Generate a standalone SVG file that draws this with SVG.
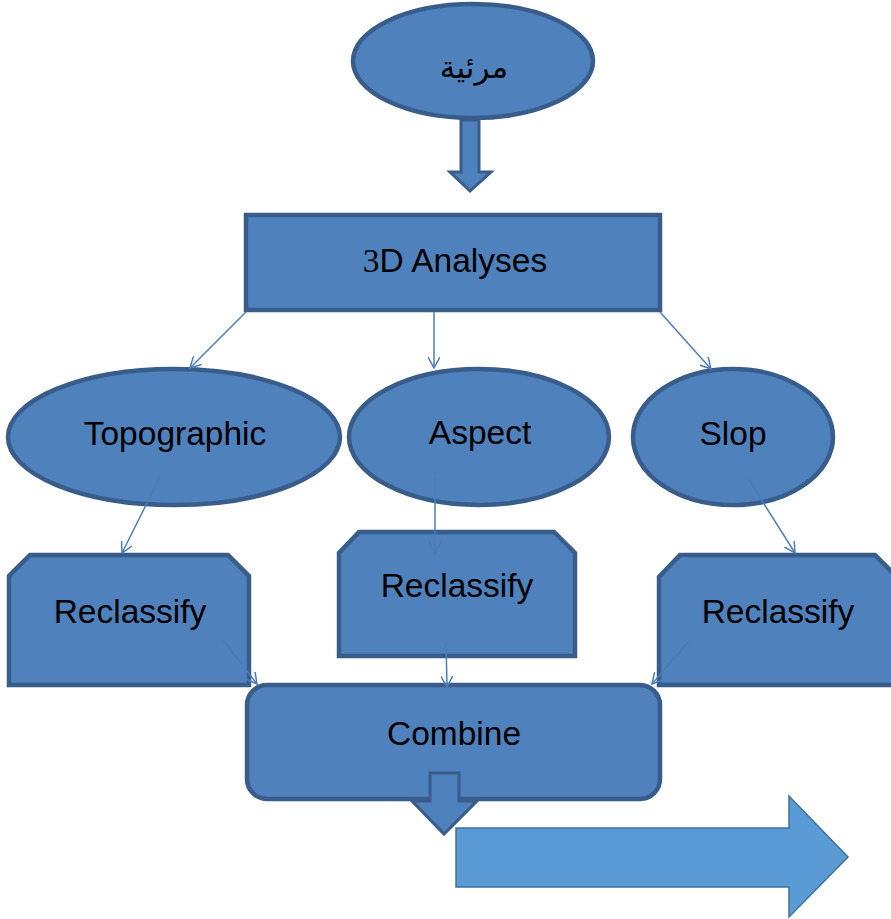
<svg xmlns="http://www.w3.org/2000/svg" width="891" height="919" viewBox="0 0 891 919">
<defs>
<style>
.shape{fill:#4F81BD;stroke:#385D8A;stroke-width:4.5}
.blk{fill:#4F81BD;stroke:#385D8A;stroke-width:3}
.lbl{font-family:"Liberation Sans","DejaVu Sans",sans-serif;font-size:33.5px;fill:#000;text-anchor:middle}
.conn{fill:none;stroke:#4A7EBB;stroke-width:1.5}
</style>
<marker id="v" viewBox="0 0 12 12" refX="11" refY="6" markerWidth="12" markerHeight="12" markerUnits="userSpaceOnUse" orient="auto">
<path d="M0,0 L11,6 L0,12" fill="none" stroke="#4A7EBB" stroke-width="1.5"/>
</marker>
</defs>
<rect width="891" height="919" fill="#fff"/>

<g id="marieh">
<ellipse class="shape" cx="473" cy="61" rx="120" ry="57"/>
<text class="lbl" x="474" y="78" style="font-family:'DejaVu Sans','Noto Sans',sans-serif;font-size:31px">مرئية</text>
</g>
<g id="arrow-top">
<path class="blk" d="M461,120 L479,120 L479,172 L491,172 L470,191 L450,172 L461,172 Z"/>
</g>

<g id="analyses">
<rect class="shape" x="246" y="215" width="414" height="95"/>
<text class="lbl" x="455" y="272"><tspan style="font-family:'Liberation Serif',serif">3</tspan>D Analyses</text>
</g>

<g id="topographic">
<ellipse class="shape" cx="174" cy="437" rx="166" ry="68"/>
<text class="lbl" x="175" y="445">Topographic</text>
</g>
<g id="aspect">
<ellipse class="shape" cx="479" cy="437" rx="130" ry="68"/>
<text class="lbl" x="480" y="444">Aspect</text>
</g>
<g id="slop">
<ellipse class="shape" cx="733" cy="437" rx="100" ry="68"/>
<text class="lbl" x="733" y="445">Slop</text>
</g>

<g id="reclassify-left">
<path class="shape" d="M30,555 L228,555 L249,576 L249,685 L9,685 L9,576 Z"/>
<text class="lbl" x="130" y="623">Reclassify</text>
</g>
<g id="reclassify-mid">
<path class="shape" d="M359,532 L554,532 L575,553 L575,656 L339,656 L339,553 Z"/>
<text class="lbl" x="457" y="597">Reclassify</text>
</g>
<g id="reclassify-right">
<path class="shape" d="M680,555 L875,555 L897,577 L897,685 L659,685 L659,577 Z"/>
<text class="lbl" x="778" y="623">Reclassify</text>
</g>

<g id="combine">
<rect class="shape" x="247" y="685" width="413" height="114" rx="20" ry="20"/>
<text class="lbl" x="454" y="745">Combine</text>
</g>

<g id="arrow-bottom">
<path class="blk" d="M430,773 L459,773 L459,801 L477,801 L444,834 L412,801 L430,801 Z"/>
</g>
<g id="arrow-right">
<path d="M456,828 L789,828 L789,796 L848,857 L789,917 L789,887 L456,887 Z" fill="#5B9BD5" stroke="#41719C" stroke-width="1.5"/>
</g>

<g id="connectors">
<line class="conn" x1="246" y1="312" x2="190" y2="368" marker-end="url(#v)"/>
<line class="conn" x1="434" y1="312" x2="434" y2="368" marker-end="url(#v)"/>
<line class="conn" x1="660" y1="312" x2="711" y2="369" marker-end="url(#v)"/>
<line class="conn" x1="160" y1="477" x2="122" y2="553" marker-end="url(#v)"/>
<line class="conn" x1="435" y1="478" x2="435" y2="553" marker-end="url(#v)"/>
<line class="conn" x1="747" y1="477" x2="795" y2="553" marker-end="url(#v)"/>
<line class="conn" x1="223" y1="640" x2="257" y2="684" marker-end="url(#v)"/>
<line class="conn" x1="446" y1="642" x2="447" y2="687" marker-end="url(#v)"/>
<line class="conn" x1="689" y1="641" x2="652" y2="684" marker-end="url(#v)"/>
</g>
</svg>
